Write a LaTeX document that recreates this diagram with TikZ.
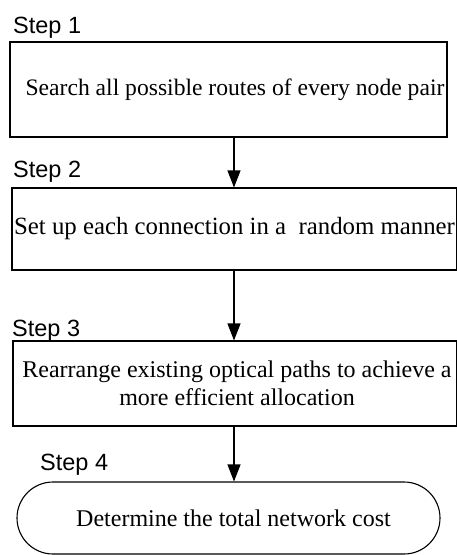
\documentclass[tikz,border=0pt]{standalone}
\usepackage{fontspec}
\setmainfont{Liberation Serif}
\newfontfamily\stepfont{Liberation Sans}
\usetikzlibrary{arrows.meta,shapes.misc}
\begin{document}
\begin{tikzpicture}[x=1pt,y=-1pt,
  box/.style={draw, line width=1.1pt, inner sep=0pt, align=center, font=\fontsize{24}{28}\selectfont},
  endbox/.style={box, rounded rectangle},
  steplabel/.style={anchor=base west, inner sep=0pt, font=\stepfont\fontsize{23.5}{25}\selectfont},
  arr/.style={line width=1.1pt, -{Triangle[length=17pt,width=13pt]}}]
\useasboundingbox (0,0) rectangle (457,555);
\node[box, minimum width=437pt, minimum height=95pt, font=\fontsize{23.6}{28}\selectfont] (b1) at (228.5,89.5) {\hspace*{13pt}Search all possible routes of every node pair};
\node[box, minimum width=445pt, minimum height=82pt, font=\fontsize{24.8}{28}\selectfont] (b2) at (234.5,229) {Set up each connection in a\ \ random manner};
\node[box, minimum width=444pt, minimum height=85pt] (b3) at (235,383.5) {\hspace*{4pt}Rearrange existing optical paths to achieve a\\ \hspace*{4pt}more efficient allocation};
\node[endbox, minimum width=423pt, minimum height=72pt] (b4) at (228.5,518) {\hspace*{10pt}Determine the total network cost};
\node[steplabel] (s1) at (13,33) {Step 1};
\node[steplabel] (s2) at (13,177) {Step 2};
\node[steplabel] (s3) at (12,336) {Step 3};
\node[steplabel] (s4) at (40,470) {Step 4};
\coordinate (ax) at (234,0);
\draw[arr] (b1.south -| ax) -- (b2.north -| ax);
\draw[arr] (b2.south -| ax) -- (b3.north -| ax);
\draw[arr] (b3.south -| ax) -- (b4.north -| ax);
\end{tikzpicture}
\end{document}
